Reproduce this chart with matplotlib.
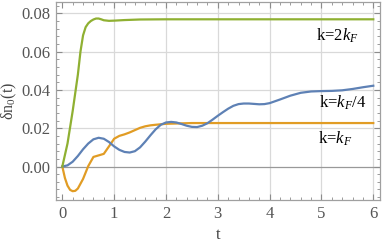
import matplotlib
matplotlib.use("Agg")
import matplotlib.pyplot as plt
from matplotlib.ticker import MultipleLocator, FormatStrFormatter

plt.rcParams['font.family'] = ['Liberation Serif', 'DejaVu Serif']
plt.rcParams['mathtext.fontset'] = 'custom'
plt.rcParams['mathtext.rm'] = 'Liberation Serif'
plt.rcParams['mathtext.it'] = 'Liberation Serif:italic'

# k = 2 k_F  (green)
t_green = [0, 0.1, 0.2, 0.3, 0.35, 0.4, 0.45, 0.5, 0.55, 0.6, 0.65, 0.7, 0.75, 0.8,
           0.9, 1.0, 1.2, 1.5, 2.0, 3.0, 4.0, 5.0, 6.0]
v_green = [0, 0.012, 0.029, 0.048, 0.060, 0.0685, 0.0728, 0.0748, 0.0760, 0.0768,
           0.0773, 0.0773, 0.0769, 0.0764, 0.0761, 0.0762, 0.0765, 0.0768, 0.0769,
           0.0769, 0.0769, 0.0769, 0.0769]

# k = k_F  (orange)
t_orange = [0, 0.05, 0.1, 0.15, 0.2, 0.25, 0.3, 0.4, 0.5, 0.6, 0.7, 0.8, 0.9, 1.0,
            1.1, 1.2, 1.3, 1.4, 1.5, 1.6, 1.7, 1.8, 2.0, 2.5, 3.0, 4.0, 5.0, 6.0]
v_orange = [0, -0.006, -0.0100, -0.0122, -0.0129, -0.0127, -0.0115, -0.0065, 0.0002,
            0.0050, 0.0058, 0.0066, 0.0105, 0.0145, 0.0160, 0.0168, 0.0178, 0.0190,
            0.0202, 0.0210, 0.0215, 0.0218, 0.0223, 0.0227, 0.0227, 0.0227, 0.0227,
            0.0227]

# k = k_F / 4  (blue)
t_blue = [0, 0.1, 0.2, 0.3, 0.4, 0.5, 0.6, 0.7, 0.8, 0.9, 1.0, 1.1, 1.2, 1.3, 1.4,
          1.5, 1.6, 1.7, 1.8, 1.9, 2.0, 2.1, 2.2, 2.3, 2.4, 2.5, 2.6, 2.7, 2.8, 2.9,
          3.0, 3.1, 3.2, 3.3, 3.4, 3.5, 3.6, 3.7, 3.8, 3.9, 4.0, 4.2, 4.4, 4.6, 4.8,
          5.0, 5.2, 5.4, 5.6, 5.8, 6.0]
v_blue = [0, 0.0006, 0.0025, 0.0055, 0.0090, 0.0120, 0.0142, 0.0150, 0.0145, 0.0128,
          0.0105, 0.0087, 0.0076, 0.0073, 0.0080, 0.0100, 0.0130, 0.0163, 0.0194,
          0.0218, 0.0230, 0.0233, 0.0230, 0.0222, 0.0213, 0.0207, 0.0206, 0.0213,
          0.0226, 0.0245, 0.0265, 0.0284, 0.0302, 0.0317, 0.0326, 0.0329, 0.0329,
          0.0327, 0.0325, 0.0326, 0.0331, 0.0350, 0.0370, 0.0385, 0.0392, 0.0394,
          0.0395, 0.0398, 0.0405, 0.0414, 0.0422]

labels = ["k=2$k_F$", "k=$k_F$/4", "k=$k_F$"]
label_x = [4.90, 4.96, 4.94]
label_y = [0.0685, 0.0335, 0.0147]

fig = plt.figure(figsize=(3.82, 2.45), dpi=100)
ax = fig.add_axes([56/382, 45/245, 323.5/382, 198.5/245])

grid_c = '#d9d9d9'
for yv in [0.02, 0.04, 0.06, 0.08]:
    ax.axhline(yv, color=grid_c, lw=0.9, zorder=0)
for xv in [1, 2, 3, 4, 5, 6]:
    ax.axvline(xv, color=grid_c, lw=0.9, zorder=0)
ax.axhline(0, color='#999999', lw=0.9, zorder=0)

ax.plot(t_orange, v_orange, color='#E19C24', lw=1.6, zorder=2)
ax.plot(t_blue, v_blue, color='#5E81B5', lw=1.6, zorder=3)
ax.plot(t_green, v_green, color='#8FB032', lw=1.6, zorder=4)

for s, x, y in zip(labels, label_x, label_y):
    ax.text(x, y, s, fontsize=12, color='black', va='center', ha='left')

ax.set_xlim(-0.122, 6.12)
ax.set_ylim(-0.0175, 0.0862)

ax.xaxis.set_major_locator(MultipleLocator(1))
ax.xaxis.set_minor_locator(MultipleLocator(0.2))
ax.yaxis.set_major_locator(MultipleLocator(0.02))
ax.yaxis.set_minor_locator(MultipleLocator(0.004))
ax.yaxis.set_major_formatter(FormatStrFormatter('%.2f'))

tc = '#8c8c8c'
for sp in ax.spines.values():
    sp.set_color('#a0a0a0')
    sp.set_linewidth(0.9)
ax.tick_params(which='both', direction='in', top=True, right=True, colors=tc,
               labelcolor='#555555', labelsize=12)
ax.tick_params(which='major', length=4, width=0.8, pad=4)
ax.tick_params(which='minor', length=2.2, width=0.6)

ax.set_xlabel('t', fontsize=12, color='#444444', labelpad=4)
ax.set_ylabel(r'$\mathrm{\delta n_0(t)}$', fontsize=11.5, color='#444444', labelpad=2)

fig.savefig('out.png', dpi=100)
